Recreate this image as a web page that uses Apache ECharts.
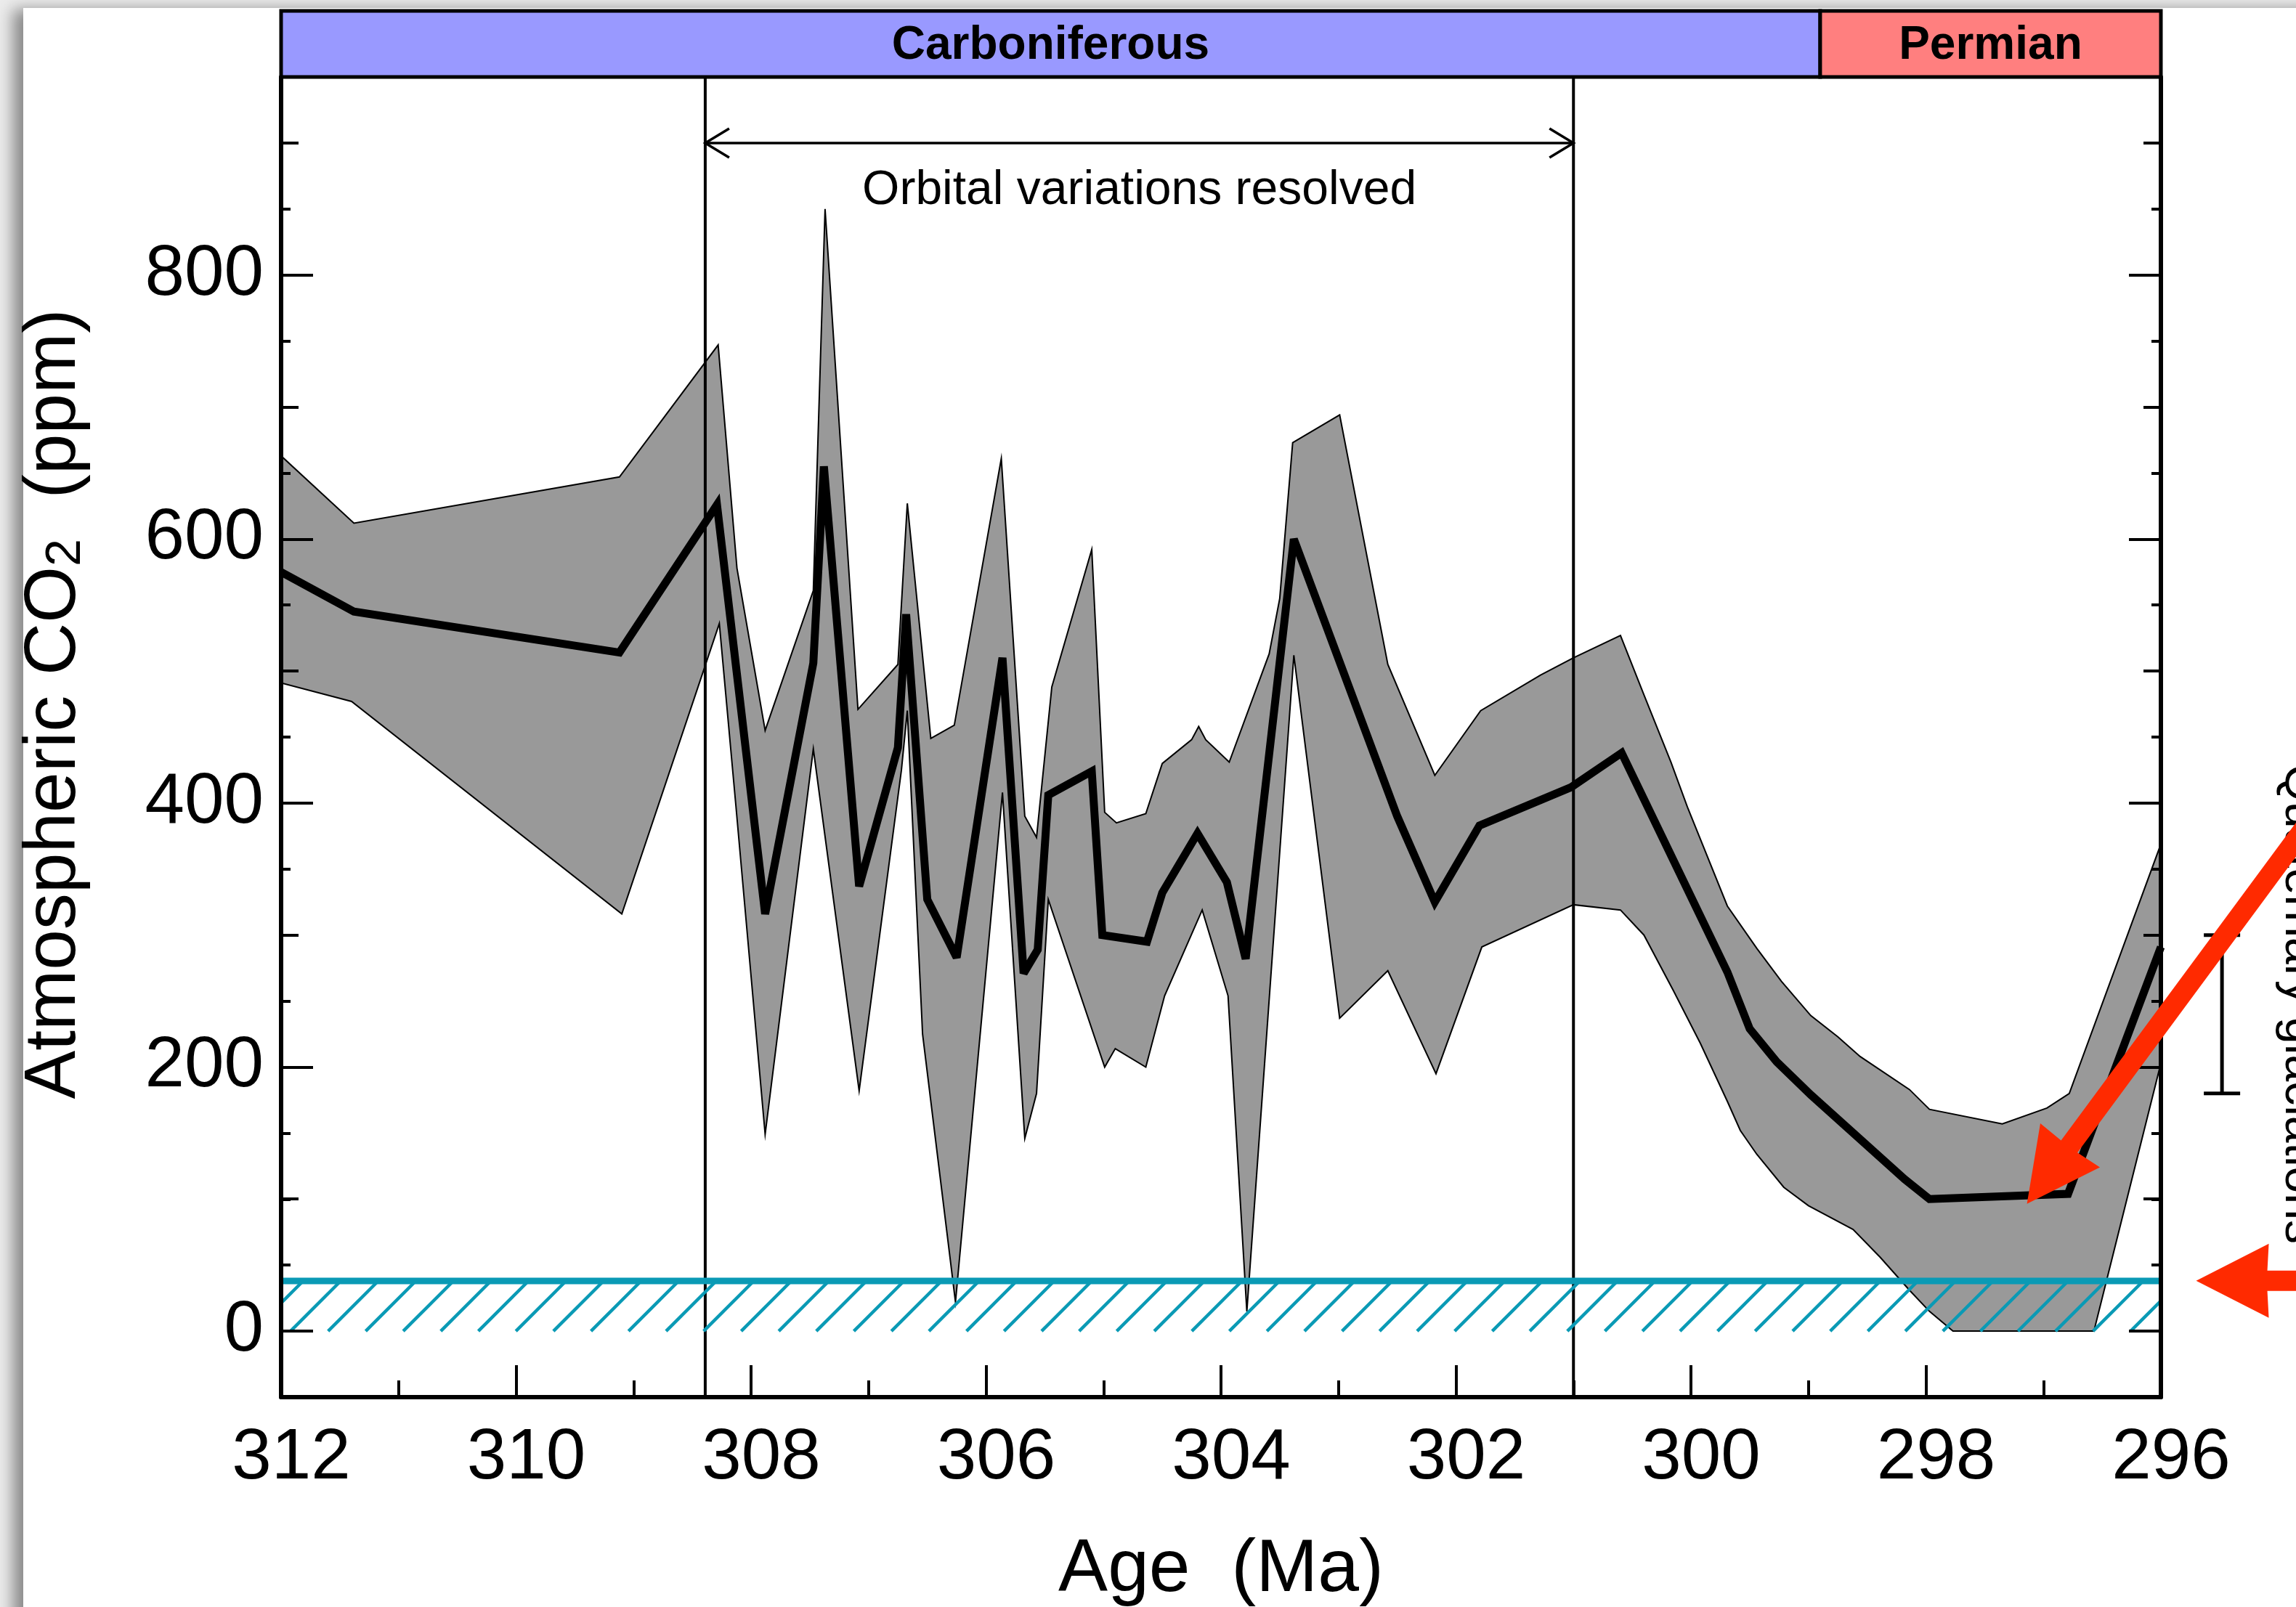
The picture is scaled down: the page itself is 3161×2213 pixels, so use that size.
<!DOCTYPE html>
<html>
<head>
<meta charset="utf-8">
<script src="https://cdn.jsdelivr.net/npm/echarts@6/dist/echarts.min.js"></script>
<style>
html,body{margin:0;padding:0;width:3161px;height:2213px;overflow:hidden;background:#ececec;}
#card{position:absolute;left:32px;top:11px;width:3300px;height:2400px;background:#ffffff;box-shadow:-14px 2px 20px rgba(0,0,0,0.42);}
#chart{position:absolute;left:0;top:0;width:3161px;height:2213px;}
</style>
</head>
<body>
<div id="card"></div>
<div id="chart"></div>
<script>
// ---------------- data ----------------
const meanAge = [312.0, 311.38, 309.12, 308.29, 307.88, 307.47, 307.38, 307.08, 306.75, 306.68, 306.50, 306.25, 305.86, 305.68, 305.56, 305.47, 305.10, 305.01, 304.63, 304.50, 304.20, 303.95, 303.79, 303.38, 302.50, 302.18, 301.80, 301.02, 300.59, 299.69, 299.50, 299.27, 298.98, 298.18, 297.97, 296.79, 296.0];
const meanCO2 = [575, 545, 514, 626, 316, 506, 655, 337, 442, 543, 327, 283, 510, 271, 289, 406, 424, 300, 295, 332, 377, 340, 282, 600, 390, 325, 383, 412, 438, 272, 229, 204, 179, 115, 100, 104, 291];

const upperAge = [312.0, 311.38, 309.12, 308.28, 308.12, 307.88, 307.47, 307.37, 307.09, 306.75, 306.67, 306.47, 306.27, 305.87, 305.67, 305.57, 305.44, 305.10, 304.99, 304.89, 304.64, 304.50, 304.25, 304.19, 304.13, 303.93, 303.59, 303.50, 303.39, 302.99, 302.58, 302.18, 301.79, 301.28, 301.00, 300.60, 300.40, 300.17, 300.03, 299.69, 299.44, 299.23, 298.98, 298.75, 298.56, 298.14, 297.97, 297.35, 296.97, 296.78, 296.0];
const upperCO2 = [663, 612, 647, 747, 578, 455, 561, 850, 471, 505, 627, 449, 459, 661, 390, 374, 488, 592, 393, 385, 392, 430, 448, 458, 448, 431, 513, 555, 673, 694, 505, 421, 470, 497, 510, 527, 482, 431, 397, 322, 290, 265, 239, 223, 208, 183, 168, 157, 169, 180, 369];

const lowerAge = [312.0, 311.40, 309.10, 308.27, 308.13, 307.88, 307.47, 307.08, 306.72, 306.67, 306.54, 306.26, 305.86, 305.67, 305.57, 305.47, 304.99, 304.90, 304.64, 304.48, 304.16, 303.94, 303.78, 303.38, 302.99, 302.58, 302.17, 301.78, 301.00, 300.60, 300.40, 300.15, 299.92, 299.69, 299.58, 299.44, 299.21, 299.00, 298.62, 298.39, 298.14, 297.97, 297.77, 296.57, 296.0];
const lowerCO2 = [491, 477, 316, 536, 399, 149, 441, 182, 425, 470, 225, 22, 408, 146, 180, 327, 200, 214, 200, 254, 319, 254, 15, 512, 237, 273, 195, 291, 323, 319, 300, 258, 218, 174, 152, 134, 109, 95, 77, 56, 31, 15, 0, 0, 203];

const periodNames = ['Carboniferous', 'Permian'];
const periodStart = [312, 298.9];
const periodEnd = [298.9, 296];

const orbitalBounds = [308.39, 301.0];
const orbitalArrowCO2 = 900;
const orbitalLabel = 'Orbital variations resolved';

const glacialCO2 = 38;            // top of hatched band

const quaternaryAge = 295.48;     // error bar position (outside the axis)
const quaternaryRange = [180, 300];
const quaternaryLabel = 'Quaternary glaciations';

const arrowTipAge = [297.14, 295.70];
const arrowTipCO2 = [96.5, 38.2];

// ---------------- styles ----------------
const FONT = '"Liberation Sans", Arial, Helvetica, sans-serif';
const PERIOD_COLORS = ['#9999ff', '#ff7f7f'];
const CYAN = '#0a9ab5';
const RED = '#ff2a00';
const ARROW_DIRS = [[0.594, -0.804], [1, 0]];  // from tip toward tail
const ARROW_TAIL = [700, 300];

const chart = echarts.init(document.getElementById('chart'), null, {renderer: 'canvas'});

function yAx(gi, pos, min, interval, tickLen, showLine, extra) {
  return Object.assign({
    gridIndex: gi, type: 'value', position: pos, min: min, max: 950, interval: interval, z: 10,
    axisLine: {show: showLine, onZero: false, lineStyle: {color: '#000', width: 6}},
    axisTick: {show: true, inside: true, length: tickLen, lineStyle: {color: '#000', width: 4}},
    axisLabel: {show: false},
    splitLine: {show: false}
  }, extra || {});
}

const GRID_BASE = {left: 387, right: 186, top: 106, containLabel: false, outerBoundsMode: 'none'};

const option = {
  animation: false,
  backgroundColor: 'transparent',
  textStyle: {fontFamily: FONT},
  grid: [
    Object.assign({}, GRID_BASE, {bottom: 289}),
    Object.assign({}, GRID_BASE, {bottom: 380}),
    Object.assign({}, GRID_BASE, {bottom: 380})
  ],
  xAxis: [
    {
      gridIndex: 0, type: 'value', min: 296, max: 312, inverse: true, interval: 2, z: 10,
      axisLine: {onZero: false, lineStyle: {color: '#000', width: 6}},
      axisTick: {inside: true, length: 44, lineStyle: {color: '#000', width: 4}},
      minorTick: {show: true, splitNumber: 2, length: 23, lineStyle: {color: '#000', width: 4}},
      axisLabel: {color: '#000', fontSize: 98, fontFamily: FONT, margin: 36, padding: [0, 0, 0, 28]},
      splitLine: {show: false}, minorSplitLine: {show: false},
      name: 'Age  (Ma)', nameLocation: 'middle', nameGap: 188,
      nameTextStyle: {color: '#000', fontSize: 102, fontFamily: FONT}
    },
    {gridIndex: 1, type: 'value', min: 296, max: 312, inverse: true, show: false},
    {gridIndex: 2, type: 'value', min: 296, max: 312, inverse: true, show: false}
  ],
  yAxis: [
    yAx(0, 'left', -50, 50, 13, true),
    yAx(0, 'right', -50, 50, 13, true),
    yAx(1, 'left', 0, 100, 24, false),
    yAx(1, 'right', 0, 100, 24, false),
    yAx(2, 'left', 0, 200, 44, false, {
      axisLabel: {show: true, color: '#000', fontSize: 98, fontFamily: FONT, margin: 24, padding: [10, 0, 0, 0],
        formatter: function (v) { return (v % 200 === 0) ? String(v) : ''; }},
      name: '{a|Atmospheric CO}{s|2}{a|  (ppm)}', nameLocation: 'middle', nameGap: 262,
      nameTextStyle: {color: '#000', fontSize: 100, fontFamily: FONT,
        rich: {
          a: {fontSize: 100, fontFamily: FONT, color: '#000', lineHeight: 100},
          s: {fontSize: 68, fontFamily: FONT, color: '#000', lineHeight: 36, verticalAlign: 'bottom'}
        }}
    }),
    yAx(2, 'right', 0, 200, 44, false)
  ],
  series: [
    // uncertainty envelope
    {
      type: 'custom', name: 'envelope', xAxisIndex: 0, yAxisIndex: 0, clip: true, z: 2, silent: true,
      data: [[upperAge[0], upperCO2[0]]],
      renderItem: function (params, api) {
        const pts = [];
        for (let i = 0; i < upperAge.length; i++) pts.push(api.coord([upperAge[i], upperCO2[i]]));
        for (let i = lowerAge.length - 1; i >= 0; i--) pts.push(api.coord([lowerAge[i], lowerCO2[i]]));
        return {type: 'polygon', shape: {points: pts}, style: {fill: '#999999', stroke: '#000', lineWidth: 2}};
      }
    },
    // vertical boundaries of the orbital interval
    {
      type: 'custom', name: 'bounds', xAxisIndex: 0, yAxisIndex: 0, clip: false, z: 3, silent: true,
      data: orbitalBounds.map(function (a) { return [a, 0]; }),
      renderItem: function (params, api) {
        const a = api.coord([api.value(0), -50]);
        const b = api.coord([api.value(0), 950]);
        return {type: 'line', shape: {x1: a[0], y1: a[1], x2: b[0], y2: b[1]}, style: {stroke: '#000', lineWidth: 4}};
      }
    },
    // mean CO2
    {
      type: 'line', name: 'CO2', xAxisIndex: 0, yAxisIndex: 0, z: 4, silent: true,
      data: meanAge.map(function (a, i) { return [a, meanCO2[i]]; }),
      showSymbol: false, symbol: 'none',
      lineStyle: {color: '#000', width: 11, join: 'miter', miterLimit: 3}
    },
    // hatched glacial threshold band
    {
      type: 'custom', name: 'threshold', xAxisIndex: 0, yAxisIndex: 0, clip: false, z: 5, silent: true,
      data: [[312, glacialCO2]],
      renderItem: function (params, api) {
        const a = api.coord([312, glacialCO2]);
        const b = api.coord([296, 0]);
        const x0 = Math.min(a[0], b[0]), x1 = Math.max(a[0], b[0]);
        const yT = a[1], yB = b[1], h = yB - yT;
        const step = 51.7, phase = 13;
        const children = [];
        for (let xb = x0 + phase - Math.ceil(h / step + 1) * step; xb < x1; xb += step) {
          const t0 = Math.max(0, x0 - xb), t1 = Math.min(h, x1 - xb);
          if (t1 <= t0) continue;
          children.push({type: 'line', shape: {x1: xb + t0, y1: yB - t0, x2: xb + t1, y2: yB - t1},
            style: {stroke: CYAN, lineWidth: 4.5}});
        }
        children.push({type: 'line', shape: {x1: x0, y1: yT, x2: x1, y2: yT}, style: {stroke: CYAN, lineWidth: 9}});
        return {type: 'group', children: children};
      }
    },
    // geological period bar
    {
      type: 'custom', name: 'periods', xAxisIndex: 0, yAxisIndex: 0, clip: false, z: 8, silent: true,
      data: periodNames.map(function (n, i) { return [periodStart[i], periodEnd[i], i]; }),
      encode: {x: [0, 1], y: 2},
      renderItem: function (params, api) {
        const i = api.value(2);
        const a = api.coord([api.value(0), 950]);
        const b = api.coord([api.value(1), 950]);
        const x0 = Math.min(a[0], b[0]), x1 = Math.max(a[0], b[0]);
        const y1 = a[1], y0 = y1 - 91;
        return {type: 'group', children: [
          {type: 'rect', shape: {x: x0, y: y0, width: x1 - x0, height: y1 - y0},
            style: {fill: PERIOD_COLORS[i], stroke: '#000', lineWidth: 5}},
          {type: 'text', style: {text: periodNames[i], x: (x0 + x1) / 2, y: (y0 + y1) / 2 + 3, fill: '#000',
            font: 'bold 64px ' + FONT, align: 'center', verticalAlign: 'middle'}}
        ]};
      }
    },
    // orbital double arrow + label
    {
      type: 'custom', name: 'orbital', xAxisIndex: 0, yAxisIndex: 0, clip: false, z: 8, silent: true,
      data: [[orbitalBounds[0], orbitalArrowCO2]],
      renderItem: function (params, api) {
        const a = api.coord([orbitalBounds[0], orbitalArrowCO2]);
        const b = api.coord([orbitalBounds[1], orbitalArrowCO2]);
        const xl = Math.min(a[0], b[0]), xr = Math.max(a[0], b[0]), y = a[1];
        const st = {stroke: '#000', lineWidth: 3.5, fill: null};
        return {type: 'group', children: [
          {type: 'line', shape: {x1: xl, y1: y, x2: xr, y2: y}, style: st},
          {type: 'polyline', shape: {points: [[xl + 33, y - 20], [xl, y], [xl + 33, y + 20]]}, style: st},
          {type: 'polyline', shape: {points: [[xr - 33, y - 20], [xr, y], [xr - 33, y + 20]]}, style: st},
          {type: 'text', style: {text: orbitalLabel, x: (xl + xr) / 2, y: y + 66, fill: '#000',
            font: '66px ' + FONT, align: 'center', verticalAlign: 'middle'}}
        ]};
      }
    },
    // Quaternary glaciation range bar + label
    {
      type: 'custom', name: 'quaternary', xAxisIndex: 0, yAxisIndex: 0, clip: false, z: 8, silent: true,
      data: [[quaternaryAge, quaternaryRange[0], quaternaryRange[1]]],
      encode: {x: 0, y: [1, 2]},
      renderItem: function (params, api) {
        const lo = api.coord([api.value(0), api.value(1)]);
        const hi = api.coord([api.value(0), api.value(2)]);
        const x = lo[0];
        const st = {stroke: '#000', lineWidth: 5};
        return {type: 'group', children: [
          {type: 'line', shape: {x1: x, y1: lo[1], x2: x, y2: hi[1]}, style: st},
          {type: 'line', shape: {x1: x - 25, y1: lo[1], x2: x + 25, y2: lo[1]}, style: st},
          {type: 'line', shape: {x1: x - 25, y1: hi[1], x2: x + 25, y2: hi[1]}, style: st},
          {type: 'text', x: x + 106, y: (lo[1] + hi[1]) / 2 - 14, rotation: -Math.PI / 2,
            style: {text: quaternaryLabel, x: 0, y: 0, fill: '#000', font: '66px ' + FONT,
              align: 'center', verticalAlign: 'middle'}}
        ]};
      }
    },
    // red annotation arrows
    {
      type: 'custom', name: 'arrows', xAxisIndex: 0, yAxisIndex: 0, clip: false, z: 20, silent: true,
      data: arrowTipAge.map(function (a, i) { return [a, arrowTipCO2[i], i]; }),
      encode: {x: 0, y: 1},
      renderItem: function (params, api) {
        const i = api.value(2);
        const t = api.coord([api.value(0), api.value(1)]);
        const u = ARROW_DIRS[i];
        const n = [-u[1], u[0]];
        const L = 100, W = 51, s = 14, S = ARROW_TAIL[i];
        function P(along, across) { return [t[0] + u[0] * along + n[0] * across, t[1] + u[1] * along + n[1] * across]; }
        const pts = [P(0, 0), P(L, W), P(L - 2, s), P(L + S, s), P(L + S, -s), P(L - 2, -s), P(L, -W)];
        return {type: 'polygon', shape: {points: pts}, style: {fill: RED, stroke: null}};
      }
    }
  ]
};

chart.setOption(option);
</script>
</body>
</html>
